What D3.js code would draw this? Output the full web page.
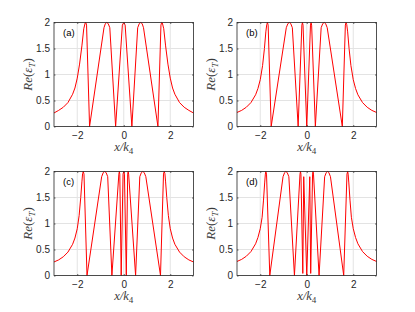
<!DOCTYPE html>
<html>
<head>
<meta charset="utf-8">
<script src="https://cdn.jsdelivr.net/npm/d3@7"></script>
<style>
  body { margin: 0; background: #fff; }
  svg { display: block; }
</style>
</head>
<body>
<div id="chart"></div>
<script>
// values, one curve per panel
const xTicks = [-2, 0, 2];
const yTicks = [0, 0.5, 1, 1.5, 2];
const panelNames = ["(a)", "(b)", "(c)", "(d)"];

const aX = [-3,-2.8,-2.6,-2.4,-2.2,-2.1,-2,-1.9,-1.8,-1.72,-1.66,-1.63,-1.6,-1.47,-0.85,-0.79,-0.73,-0.67,-0.6,-0.35,-0.06,0,0.06,0.35,0.6,0.67,0.73,0.79,0.85,1.47,1.6,1.63,1.66,1.72,1.8,1.9,2,2.1,2.2,2.4,2.6,2.8,3];
const aY = [0.26,0.31,0.37,0.46,0.62,0.74,0.93,1.2,1.55,1.88,1.99,2,1.95,0,1.9,1.98,2,1.98,1.9,0,1.95,2,1.95,0,1.9,1.98,2,1.98,1.9,0,1.95,2,1.99,1.88,1.55,1.2,0.93,0.74,0.62,0.46,0.37,0.31,0.26];

const bX = [-3,-2.8,-2.6,-2.4,-2.2,-2.1,-2,-1.9,-1.82,-1.76,-1.72,-1.69,-1.66,-1.53,-0.88,-0.81,-0.75,-0.69,-0.62,-0.37,-0.21,-0.185,-0.16,0,0.16,0.185,0.21,0.37,0.62,0.69,0.75,0.81,0.88,1.53,1.66,1.69,1.72,1.76,1.82,1.9,2,2.1,2.2,2.4,2.6,2.8,3];
const bY = [0.27,0.31,0.37,0.46,0.61,0.73,0.9,1.17,1.5,1.82,1.96,2,1.95,0,1.9,1.98,2,1.98,1.9,0,1.95,2,1.95,0,1.95,2,1.95,0,1.9,1.98,2,1.98,1.9,0,1.95,2,1.96,1.82,1.5,1.17,0.9,0.73,0.61,0.46,0.37,0.31,0.27];

const cX = [-3,-2.8,-2.6,-2.4,-2.2,-2.1,-2,-1.92,-1.85,-1.8,-1.77,-1.74,-1.71,-1.58,-0.95,-0.88,-0.82,-0.76,-0.69,-0.51,-0.21,-0.19,-0.17,-0.11,-0.03,0,0.03,0.11,0.17,0.19,0.21,0.51,0.69,0.76,0.82,0.88,0.95,1.58,1.71,1.74,1.77,1.8,1.85,1.92,2,2.1,2.2,2.4,2.6,2.8,3];
const cY = [0.26,0.3,0.36,0.45,0.6,0.72,0.9,1.15,1.5,1.8,1.96,2,1.95,0,1.9,1.98,2,1.98,1.9,0,1.95,2,1.95,0,1.95,2,1.95,0,1.95,2,1.95,0,1.9,1.98,2,1.98,1.9,0,1.95,2,1.96,1.8,1.5,1.15,0.9,0.72,0.6,0.45,0.36,0.3,0.26];

const dX = [-3,-2.8,-2.6,-2.4,-2.2,-2.1,-2,-1.92,-1.86,-1.81,-1.78,-1.76,-1.73,-1.59,-1.02,-0.95,-0.9,-0.84,-0.77,-0.53,-0.29,-0.27,-0.25,-0.17,-0.13,0,0.13,0.17,0.25,0.27,0.29,0.53,0.77,0.84,0.9,0.95,1.02,1.59,1.73,1.76,1.78,1.81,1.86,1.92,2,2.1,2.2,2.4,2.6,2.8,3];
const dY = [0.27,0.31,0.37,0.46,0.61,0.73,0.9,1.12,1.45,1.78,1.95,2,1.95,0,1.9,1.98,2,1.98,1.9,0,1.95,2,1.95,0.04,1.9,0,1.9,0.04,1.95,2,1.95,0,1.9,1.98,2,1.98,1.9,0,1.95,2,1.95,1.78,1.45,1.12,0.9,0.73,0.61,0.46,0.37,0.31,0.27];

const curves = [[aX, aY], [bX, bY], [cX, cY], [dX, dY]];

const svg = d3.select("#chart")
    .append("svg")
    .attr("width", 415)
    .attr("height", 312);

// panel boxes (left, top) in pixels
const boxes = [
    { left: 54, top: 22.5 },
    { left: 237, top: 22.5 },
    { left: 54, top: 171.5 },
    { left: 237, top: 171.5 }
];
const w = 139.5, h = 104;
const axisColor = "#262626";

boxes.forEach((b, i) => {
    const g = svg.append("g")
        .attr("transform", "translate(" + b.left + "," + b.top + ")");

    const x = d3.scaleLinear().domain([-3, 3]).range([0, w]);
    const y = d3.scaleLinear().domain([0, 2]).range([h, 0]);

    // grid
    g.selectAll(".gx")
        .data(xTicks)
        .enter()
        .append("line")
        .attr("x1", d => x(d)).attr("x2", d => x(d))
        .attr("y1", 0).attr("y2", h)
        .attr("stroke", "#e3e3e3")
        .attr("stroke-width", 1);
    g.selectAll(".gy")
        .data(yTicks)
        .enter()
        .append("line")
        .attr("x1", 0).attr("x2", w)
        .attr("y1", d => y(d)).attr("y2", d => y(d))
        .attr("stroke", "#e3e3e3")
        .attr("stroke-width", 1);

    // the curve
    const [xs, ys] = curves[i];
    const pts = xs.map((v, k) => [v, ys[k]]);
    g.append("path")
        .datum(pts)
        .attr("fill", "none")
        .attr("stroke", "#ff0000")
        .attr("stroke-width", 1)
        .attr("stroke-linejoin", "round")
        .attr("d", d3.line().x(d => x(d[0])).y(d => y(d[1])));

    // axes, ticks pointing inward like matlab
    g.append("g")
        .attr("transform", "translate(0," + h + ")")
        .call(d3.axisBottom(x).tickValues(xTicks).tickSizeInner(-1.5).tickSizeOuter(0).tickPadding(5.5).tickFormat(d3.format("d")));
    g.append("g")
        .call(d3.axisLeft(y).tickValues(yTicks).tickSizeInner(-1.5).tickSizeOuter(0).tickPadding(4).tickFormat(d => d));
    g.append("g")
        .call(d3.axisTop(x).tickValues(xTicks).tickSizeInner(-1.5).tickSizeOuter(0).tickFormat(""));
    g.append("g")
        .attr("transform", "translate(" + w + ",0)")
        .call(d3.axisRight(y).tickValues(yTicks).tickSizeInner(-1.5).tickSizeOuter(0).tickFormat(""));

    g.selectAll(".domain").remove();
    g.selectAll(".tick line").attr("stroke", axisColor).attr("stroke-width", 0.7);
    g.selectAll(".tick text")
        .attr("fill", axisColor)
        .style("font-family", "'Liberation Sans', Arial, sans-serif")
        .style("font-size", "10px");

    g.append("rect")
        .attr("width", w).attr("height", h)
        .attr("fill", "none")
        .attr("stroke", axisColor)
        .attr("stroke-width", 0.8);

    // panel tag
    g.append("text")
        .attr("x", 9).attr("y", 13.5)
        .attr("fill", "#000")
        .style("font-family", "'Liberation Sans', Arial, sans-serif")
        .style("font-size", "9.5px")
        .text(panelNames[i]);

    // x label: x/k_4
    const xl = g.append("text")
        .attr("x", w / 2).attr("y", h + 24.5)
        .attr("text-anchor", "middle")
        .attr("fill", "#3a3a3a")
        .style("font-family", "'Liberation Serif', 'Times New Roman', serif")
        .style("font-style", "italic")
        .style("font-size", "12.5px");
    xl.append("tspan").text("x/k");
    xl.append("tspan").attr("dy", 2.5).style("font-size", "9px").style("font-style", "normal").text("4");

    // y label: Re(eps_T)
    const yl = g.append("text")
        .attr("transform", "translate(-22," + (h / 2) + ") rotate(-90)")
        .attr("text-anchor", "middle")
        .attr("fill", "#3a3a3a")
        .style("font-family", "'Liberation Serif', 'Times New Roman', serif")
        .style("font-style", "italic")
        .style("font-size", "13px");
    yl.append("tspan").text("Re");
    yl.append("tspan").style("font-style", "normal").text("(");
    yl.append("tspan").text("ε");
    yl.append("tspan").attr("dy", 2.5).style("font-size", "9px").text("T");
    yl.append("tspan").attr("dy", -2.5).style("font-style", "normal").text(")");
});
</script>
</body>
</html>
